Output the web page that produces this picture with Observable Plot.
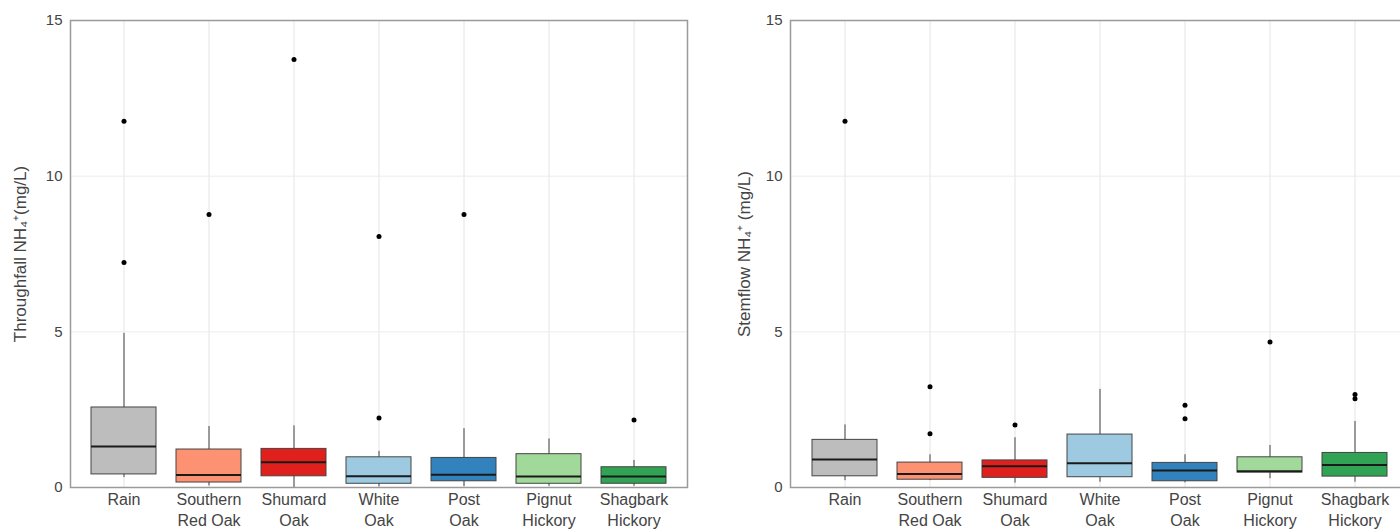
<!DOCTYPE html>
<html>
<head>
<meta charset="utf-8">
<script src="https://cdn.jsdelivr.net/npm/d3@7"></script>
<script src="https://cdn.jsdelivr.net/npm/@observablehq/plot@0.6"></script>
<style>
  html, body { margin: 0; padding: 0; background: #fff; overflow: hidden; }
  #wrap { display: flex; flex-wrap: nowrap; width: 1400px; overflow: hidden; }
  #wrap svg { flex: none; max-width: none; }
</style>
</head>
<body>
<div id="wrap"></div>
<script>
// ---- Data ----
const species = ["Rain", "Southern\nRed Oak", "Shumard\nOak", "White\nOak", "Post\nOak", "Pignut\nHickory", "Shagbark\nHickory"];
const colors = ["#bdbdbd", "#fc9272", "#e0201c", "#9ecae1", "#3182bd", "#a1d99b", "#31a354"];
const yTicks = [0, 5, 10, 15];

// Throughfall NH4+ (mg/L)
const tfLow  = [0.32, 0.05, 0.00, 0.02, 0.03, 0.04, 0.04];
const tfQ1   = [0.42, 0.16, 0.36, 0.12, 0.20, 0.12, 0.12];
const tfMed  = [1.32, 0.40, 0.81, 0.36, 0.41, 0.35, 0.35];
const tfQ3   = [2.57, 1.22, 1.24, 0.97, 0.95, 1.07, 0.65];
const tfHigh = [4.95, 1.96, 1.98, 1.16, 1.89, 1.56, 0.87];
const tfOut  = [[11.76, 7.23], [8.77], [13.75], [8.06, 2.23], [8.77], [], [2.17]];

// Stemflow NH4+ (mg/L)
const sfLow  = [0.22, 0.22, 0.14, 0.17, 0.15, 0.28, 0.17];
const sfQ1   = [0.36, 0.25, 0.31, 0.33, 0.20, 0.48, 0.35];
const sfMed  = [0.90, 0.43, 0.68, 0.78, 0.55, 0.52, 0.72];
const sfQ3   = [1.53, 0.80, 0.87, 1.70, 0.79, 0.97, 1.11];
const sfHigh = [2.01, 1.05, 1.60, 3.15, 1.05, 1.35, 2.12];
const sfOut  = [[11.76], [3.24, 1.73], [2.01], [], [2.64, 2.21], [4.67], [2.99, 2.85]];

function buildRows(low, q1, med, q3, high) {
  return species.map((s, i) => ({species: s, color: colors[i], low: low[i], q1: q1[i], med: med[i], q3: q3[i], high: high[i]}));
}
function buildOut(out) {
  const r = [];
  out.forEach((vals, i) => vals.forEach(v => r.push({species: species[i], value: v})));
  return r;
}

function panel({rows, outs, width, marginLeft, marginRight, label, labelOffset}) {
  return Plot.plot({
    width, height: 529,
    marginTop: 20, marginBottom: 42, marginLeft, marginRight,
    style: {fontFamily: "'Liberation Sans', Arial, sans-serif", fontSize: "15px", color: "#444", background: "#fff"},
    x: {domain: species, padding: 0.24, label: null},
    y: {domain: [0, 15], label: null},
    marks: [
      Plot.ruleX(species, {x: d => d, stroke: "#e4e4e4", strokeWidth: 1}),
      Plot.ruleY([5, 10], {stroke: "#ececec", strokeWidth: 1}),
      Plot.axisY(yTicks, {tickSize: 0, tickPadding: 8, fontSize: 15, label: null}),
      Plot.axisX({tickSize: 0, tickPadding: 2, fontSize: 16, lineHeight: 1.35, label: null}),
      Plot.text([label], {frameAnchor: "left", dx: -labelOffset, rotate: -90, textAnchor: "middle", lineAnchor: "middle", fontSize: 17, fill: "#444"}),
      Plot.ruleX(rows, {x: "species", y1: "low", y2: "high", stroke: "#444", strokeWidth: 1}),
      Plot.barY(rows, {x: "species", y1: "q1", y2: "q3", fill: "color", stroke: "#444", strokeWidth: 1}),
      Plot.tickY(rows, {x: "species", y: "med", stroke: "#1a1a1a", strokeWidth: 2}),
      Plot.dot(outs, {x: "species", y: "value", r: 2.5, fill: "#000", stroke: null}),
      Plot.frame({stroke: "#9a9a9a", strokeWidth: 1.5})
    ]
  });
}

const wrap = document.getElementById("wrap");
wrap.appendChild(panel({
  rows: buildRows(tfLow, tfQ1, tfMed, tfQ3, tfHigh), outs: buildOut(tfOut),
  width: 700, marginLeft: 70, marginRight: 13,
  label: "Throughfall NH₄⁺(mg/L)", labelOffset: 50
}));
wrap.appendChild(panel({
  rows: buildRows(sfLow, sfQ1, sfMed, sfQ3, sfHigh), outs: buildOut(sfOut),
  width: 708, marginLeft: 90, marginRight: 0,
  label: "Stemflow NH₄⁺ (mg/L)", labelOffset: 46
}));
</script>
</body>
</html>
